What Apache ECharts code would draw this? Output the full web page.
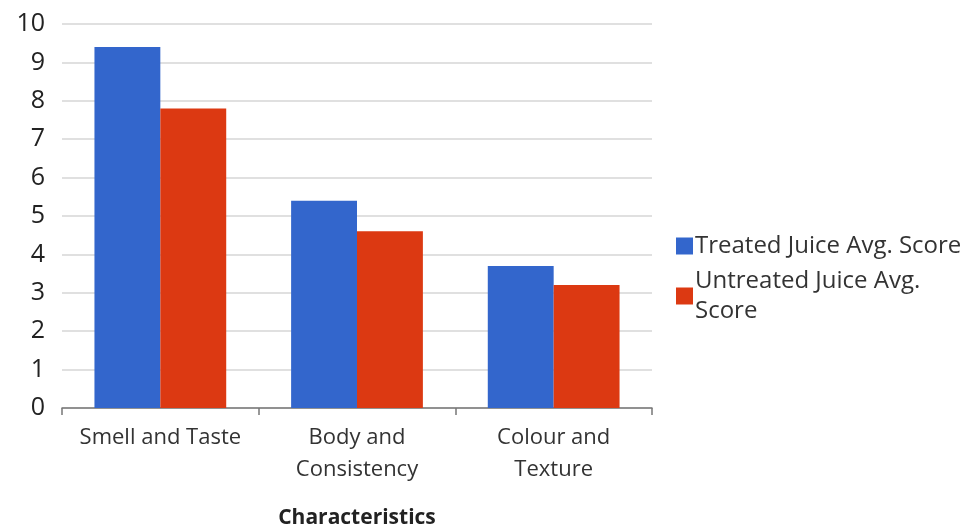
<!DOCTYPE html>
<html>
<head>
<meta charset="utf-8">
<style>
  html, body { margin: 0; padding: 0; background: #ffffff; }
  #chart { width: 966px; height: 525px; }
</style>
<script src="https://cdn.jsdelivr.net/npm/echarts@6/dist/echarts.min.js"></script>
</head>
<body>
<div id="chart"></div>
<script>
// Sensory evaluation scores by characteristic
const categories = ['Smell and Taste', 'Body and\nConsistency', 'Colour and\nTexture'];
const treatedScores = [9.4, 5.4, 3.7];
const untreatedScores = [7.8, 4.6, 3.2];
const seriesNames = ['Treated Juice Avg. Score', 'Untreated Juice Avg. Score'];
const yTicks = [0, 1, 2, 3, 4, 5, 6, 7, 8, 9, 10];

const FONT = '"Open Sans", "Noto Sans", sans-serif';

const chart = echarts.init(document.getElementById('chart'), null, { renderer: 'canvas' });

chart.setOption({
  animation: false,
  backgroundColor: '#ffffff',
  textStyle: { fontFamily: FONT },
  grid: {
    left: 62, right: 314, top: 24, bottom: 117,
    containLabel: false,
    outerBoundsMode: 'none'
  },
  legend: {
    orient: 'vertical',
    left: 676,
    top: 231,
    padding: 0,
    itemWidth: 17,
    itemHeight: 17,
    itemGap: 5,
    icon: 'rect',
    textStyle: {
      fontFamily: FONT,
      fontSize: 24,
      color: '#333333',
      lineHeight: 30,
      width: 272,
      overflow: 'break',
      padding: [0, 0, 0, -3]
    },
    data: seriesNames
  },
  xAxis: {
    type: 'category',
    data: categories,
    name: 'Characteristics',
    nameLocation: 'middle',
    nameGap: 100,
    nameTextStyle: { fontFamily: FONT, fontSize: 21, fontWeight: 'bold', color: '#222222' },
    axisLine: { lineStyle: { color: '#777777', width: 1.5 } },
    axisTick: { show: true, interval: 0, length: 7, alignWithLabel: false, lineStyle: { color: '#777777', width: 1.5 } },
    axisLabel: {
      interval: 0,
      fontFamily: FONT,
      fontSize: 22,
      color: '#333333',
      lineHeight: 32,
      margin: 14
    }
  },
  yAxis: {
    type: 'value',
    min: yTicks[0],
    max: yTicks[yTicks.length - 1],
    interval: 1,
    axisLine: { show: false },
    axisTick: { show: false },
    splitLine: { lineStyle: { color: '#d6d6d6', width: 1.5 } },
    axisLabel: {
      fontFamily: FONT,
      fontSize: 25,
      color: '#222222',
      margin: 17
    }
  },
  series: [
    {
      name: seriesNames[0],
      type: 'bar',
      data: treatedScores,
      barGap: '0%',
      barCategoryGap: '33%',
      itemStyle: { color: '#3366cc' }
    },
    {
      name: seriesNames[1],
      type: 'bar',
      data: untreatedScores,
      itemStyle: { color: '#dc3912' }
    }
  ]
});
</script>
</body>
</html>
